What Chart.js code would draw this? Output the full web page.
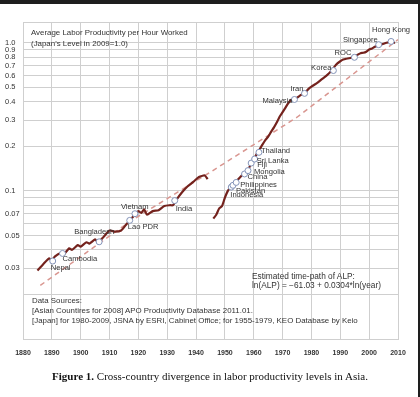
<!DOCTYPE html>
<html>
<head>
<meta charset="utf-8">
<script src="https://cdn.jsdelivr.net/npm/chart.js@4.4.1/dist/chart.umd.min.js"></script>
<style>
  html, body { margin: 0; padding: 0; background: #fff; }
  #wrap { position: relative; width: 420px; height: 397px; overflow: hidden; }
  #chart { position: absolute; left: 0; top: 0; }
  .txt { position: absolute; font-family: "Liberation Sans", Arial, sans-serif; font-size: 7.9px; color: #333; white-space: nowrap; }
  #caption { position: absolute; left: 0; width: 420px; top: 370px; text-align: center;
             font-family: "Liberation Serif", "Times New Roman", serif; font-size: 11px; color: #111; }
  #topbar { position: absolute; left: 0; top: 0; width: 420px; height: 4px; background: #1e1e1e; }
  #rightbar { position: absolute; right: 0; top: 0; width: 2px; height: 397px; background: #1e1e1e; }
</style>
</head>
<body>
<div id="wrap">
  <canvas id="chart" width="420" height="397"></canvas>
  <div class="txt" style="left:31px;top:27px;line-height:11px;">Average Labor Productivity per Hour Worked<br>(Japan's Level in 2009=1.0)</div>
  <div class="txt" style="left:252px;top:272px;line-height:8.8px;font-size:8.3px;">Estimated time-path of ALP:<br>ln(ALP) = &minus;61.03 + 0.0304*ln(year)</div>
  <div class="txt" style="left:32px;top:295.5px;line-height:10.2px;">Data Sources:<br>[Asian Countires for 2008] APO Productivity Database 2011.01.<br>[Japan] for 1980-2009, JSNA by ESRI, Cabinet Office; for 1955-1979, KEO Database by Keio</div>
  <div id="caption"><b>Figure 1.</b> Cross-country divergence in labor productivity levels in Asia.</div>
  <div id="topbar"></div>
  <div id="rightbar"></div>
</div>
<script>
// Japan, average labor productivity per hour (Japan 2009 = 1.0), null = war gap
const japanYears = [1885,1887,1889,1890,1891,1893,1894,1896,1897,1899,1900,1902,1903,1905,1906,1908,1910,1912,1914,1916,1917,1919,1920,1921,1922,1923,1925,1927,1929,1931,1932,1933,1935,1937,1939,1941,1943,1944,
  1945,
  1946,1947,1948,1949,1950,1951,1952,1953,1954,1955,1956,1957,1958,1959,1960,1961,1962,1963,1964,1965,1966,1967,1968,1969,1970,1971,1972,1973,1974,1975,1976,1977,1978,1979,1980,1981,1982,1983,1984,1985,1986,1987,1988,1989,1990,1991,1992,1993,1994,1995,1996,1997,1998,1999,2000,2001,2002,2003,2004,2005,2006,2007,2008,2009];
const japanValues = [0.029,0.032,0.035,0.034,0.036,0.038,0.037,0.041,0.040,0.043,0.042,0.045,0.044,0.047,0.045,0.049,0.054,0.053,0.054,0.060,0.063,0.070,0.073,0.071,0.075,0.069,0.073,0.074,0.079,0.080,0.080,0.086,0.097,0.107,0.115,0.124,0.127,0.120,
  null,
  0.065,0.069,0.076,0.079,0.090,0.100,0.106,0.111,0.116,0.122,0.128,0.133,0.138,0.152,0.163,0.177,0.190,0.205,0.220,0.232,0.250,0.268,0.290,0.318,0.340,0.365,0.392,0.412,0.415,0.425,0.440,0.452,0.465,0.488,0.505,0.520,0.535,0.555,0.575,0.595,0.620,0.648,0.690,0.725,0.750,0.770,0.780,0.785,0.795,0.810,0.830,0.850,0.855,0.870,0.900,0.915,0.940,0.955,0.970,0.985,1.000,1.010,1.000,1.000];

// Asian countries in 2008, placed at the year Japan had the same level
const countryNames = ['Nepal','Cambodia','Bangladesh','Lao PDR','Vietnam','India','Indonesia','Pakistan','Philippines','China','Mongolia','Fiji','Sri Lanka','Thailand','Malaysia','Iran','Korea','ROC','Singapore','Hong Kong'];
const countryYears = [1890.3,1893.7,1906.4,1917.0,1918.8,1932.6,1952.2,1952.8,1953.9,1956.8,1958.0,1959.1,1960.3,1961.8,1974.1,1977.6,1987.6,1994.9,2003.3,2007.6];
const countryValues = [0.0336,0.0378,0.0453,0.0632,0.0701,0.086,0.106,0.109,0.114,0.130,0.137,0.154,0.164,0.182,0.414,0.455,0.649,0.797,0.970,1.020];

// estimated time path (dashed)
const trendYears = [1886,1917,1945,1975,2010];
const trendValues = [0.023,0.062,0.134,0.314,1.05];

// axes
const xTicks = [1880,1890,1900,1910,1920,1930,1940,1950,1960,1970,1980,1990,2000,2010];
const yGridValues = [0.01,0.02,0.03,0.04,0.05,0.06,0.07,0.08,0.09,0.1,0.2,0.3,0.4,0.5,0.6,0.7,0.8,0.9,1.0];
const yLabelValues = [1.0,0.9,0.8,0.7,0.6,0.5,0.4,0.3,0.2,0.1,0.07,0.05,0.03];
const yLabelTexts = ['1.0','0.9','0.8','0.7','0.6','0.5','0.4','0.3','0.2','0.1','0.07','0.05','0.03'];

const labelFont = '7.6px "Liberation Sans", Arial, sans-serif';
const gridColor = '#cfcfcf';

// label placement next to each circle: [dx, dy, align]
const placement = {
  'Nepal': [-2, 7, 'left'], 'Cambodia': [0, 5, 'left'], 'Bangladesh': [-25, -10, 'left'],
  'Lao PDR': [-2, 7, 'left'], 'Vietnam': [-14, -7, 'left'], 'India': [1, 8, 'left'],
  'Indonesia': [-1, 8, 'left'], 'Pakistan': [3, 6, 'left'], 'Philippines': [4, 2, 'left'],
  'China': [3, 3, 'left'], 'Mongolia': [6, 1, 'left'], 'Fiji': [6, 2, 'left'],
  'Sri Lanka': [2, 2, 'left'], 'Thailand': [2, -1, 'left'], 'Malaysia': [-2, 1, 'right'],
  'Iran': [-1, -4, 'right'], 'Korea': [-2, -3, 'right'], 'ROC': [-3, -4, 'right'],
  'Singapore': [-1, -5, 'right'], 'Hong Kong': [0, -12, 'center']
};

const countryLabels = {
  id: 'countryLabels',
  afterDatasetsDraw(chart) {
    const ctx = chart.ctx;
    const meta = chart.getDatasetMeta(0);
    ctx.save();
    ctx.font = labelFont;
    ctx.fillStyle = '#333';
    ctx.textBaseline = 'middle';
    meta.data.forEach((pt, i) => {
      const name = countryNames[i];
      const p = placement[name];
      ctx.textAlign = p[2];
      ctx.fillText(name, pt.x + p[0], pt.y + p[1]);
    });
    ctx.restore();
  }
};

const frame = {
  id: 'frame',
  beforeDatasetsDraw(chart) {
    const a = chart.chartArea, ctx = chart.ctx;
    ctx.save();
    ctx.strokeStyle = gridColor;
    ctx.lineWidth = 1;
    ctx.strokeRect(Math.round(a.left) + 0.5, Math.round(a.top) + 0.5, Math.round(a.right - a.left), Math.round(a.bottom - a.top));
    ctx.restore();
  }
};

new Chart(document.getElementById('chart'), {
  type: 'line',
  data: {
    datasets: [
      {
        type: 'scatter',
        data: countryYears.map((y, i) => ({ x: y, y: countryValues[i] })),
        pointRadius: 3,
        pointBackgroundColor: '#ffffff',
        pointBorderColor: '#8393b8',
        pointBorderWidth: 1
      },
      {
        data: japanYears.map((y, i) => ({ x: y, y: japanValues[i] })),
        borderColor: '#74221d',
        borderWidth: 2.2,
        pointRadius: 0,
        spanGaps: false,
        tension: 0.2
      },
      {
        data: trendYears.map((y, i) => ({ x: y, y: trendValues[i] })),
        borderColor: '#d99690',
        borderWidth: 1.5,
        borderDash: [5, 4],
        pointRadius: 0
      }
    ]
  },
  options: {
    responsive: false,
    animation: false,
    layout: { padding: { left: 5, right: 22, top: 22, bottom: 38 } },
    plugins: { legend: { display: false }, tooltip: { enabled: false } },
    scales: {
      x: {
        type: 'linear',
        min: 1880,
        max: 2010,
        afterBuildTicks: s => { s.ticks = xTicks.map(v => ({ value: v })); },
        afterFit: s => { s.height = 20; },
        grid: { color: gridColor, drawTicks: false },
        border: { color: gridColor },
        ticks: {
          padding: 10,
          autoSkip: false,
          maxRotation: 0,
          color: '#333',
          font: { family: '"Liberation Sans", Arial, sans-serif', size: 7, weight: 'bold' },
          callback: v => String(v)
        }
      },
      y: {
        type: 'logarithmic',
        min: 0.01,
        max: 1.38,
        afterBuildTicks: s => { s.ticks = yGridValues.map(v => ({ value: v })); },
        afterFit: s => { s.width = 18; },
        grid: { color: gridColor, drawTicks: false },
        border: { color: gridColor },
        ticks: {
          padding: 0,
          autoSkip: false,
          crossAlign: 'far',
          color: '#333',
          font: { family: '"Liberation Sans", Arial, sans-serif', size: 7.5 },
          callback: v => {
            const k = yLabelValues.findIndex(t => Math.abs(t - v) < 1e-9);
            return k >= 0 ? yLabelTexts[k] : '';
          }
        }
      }
    }
  },
  plugins: [frame, countryLabels]
});
</script>
</body>
</html>
